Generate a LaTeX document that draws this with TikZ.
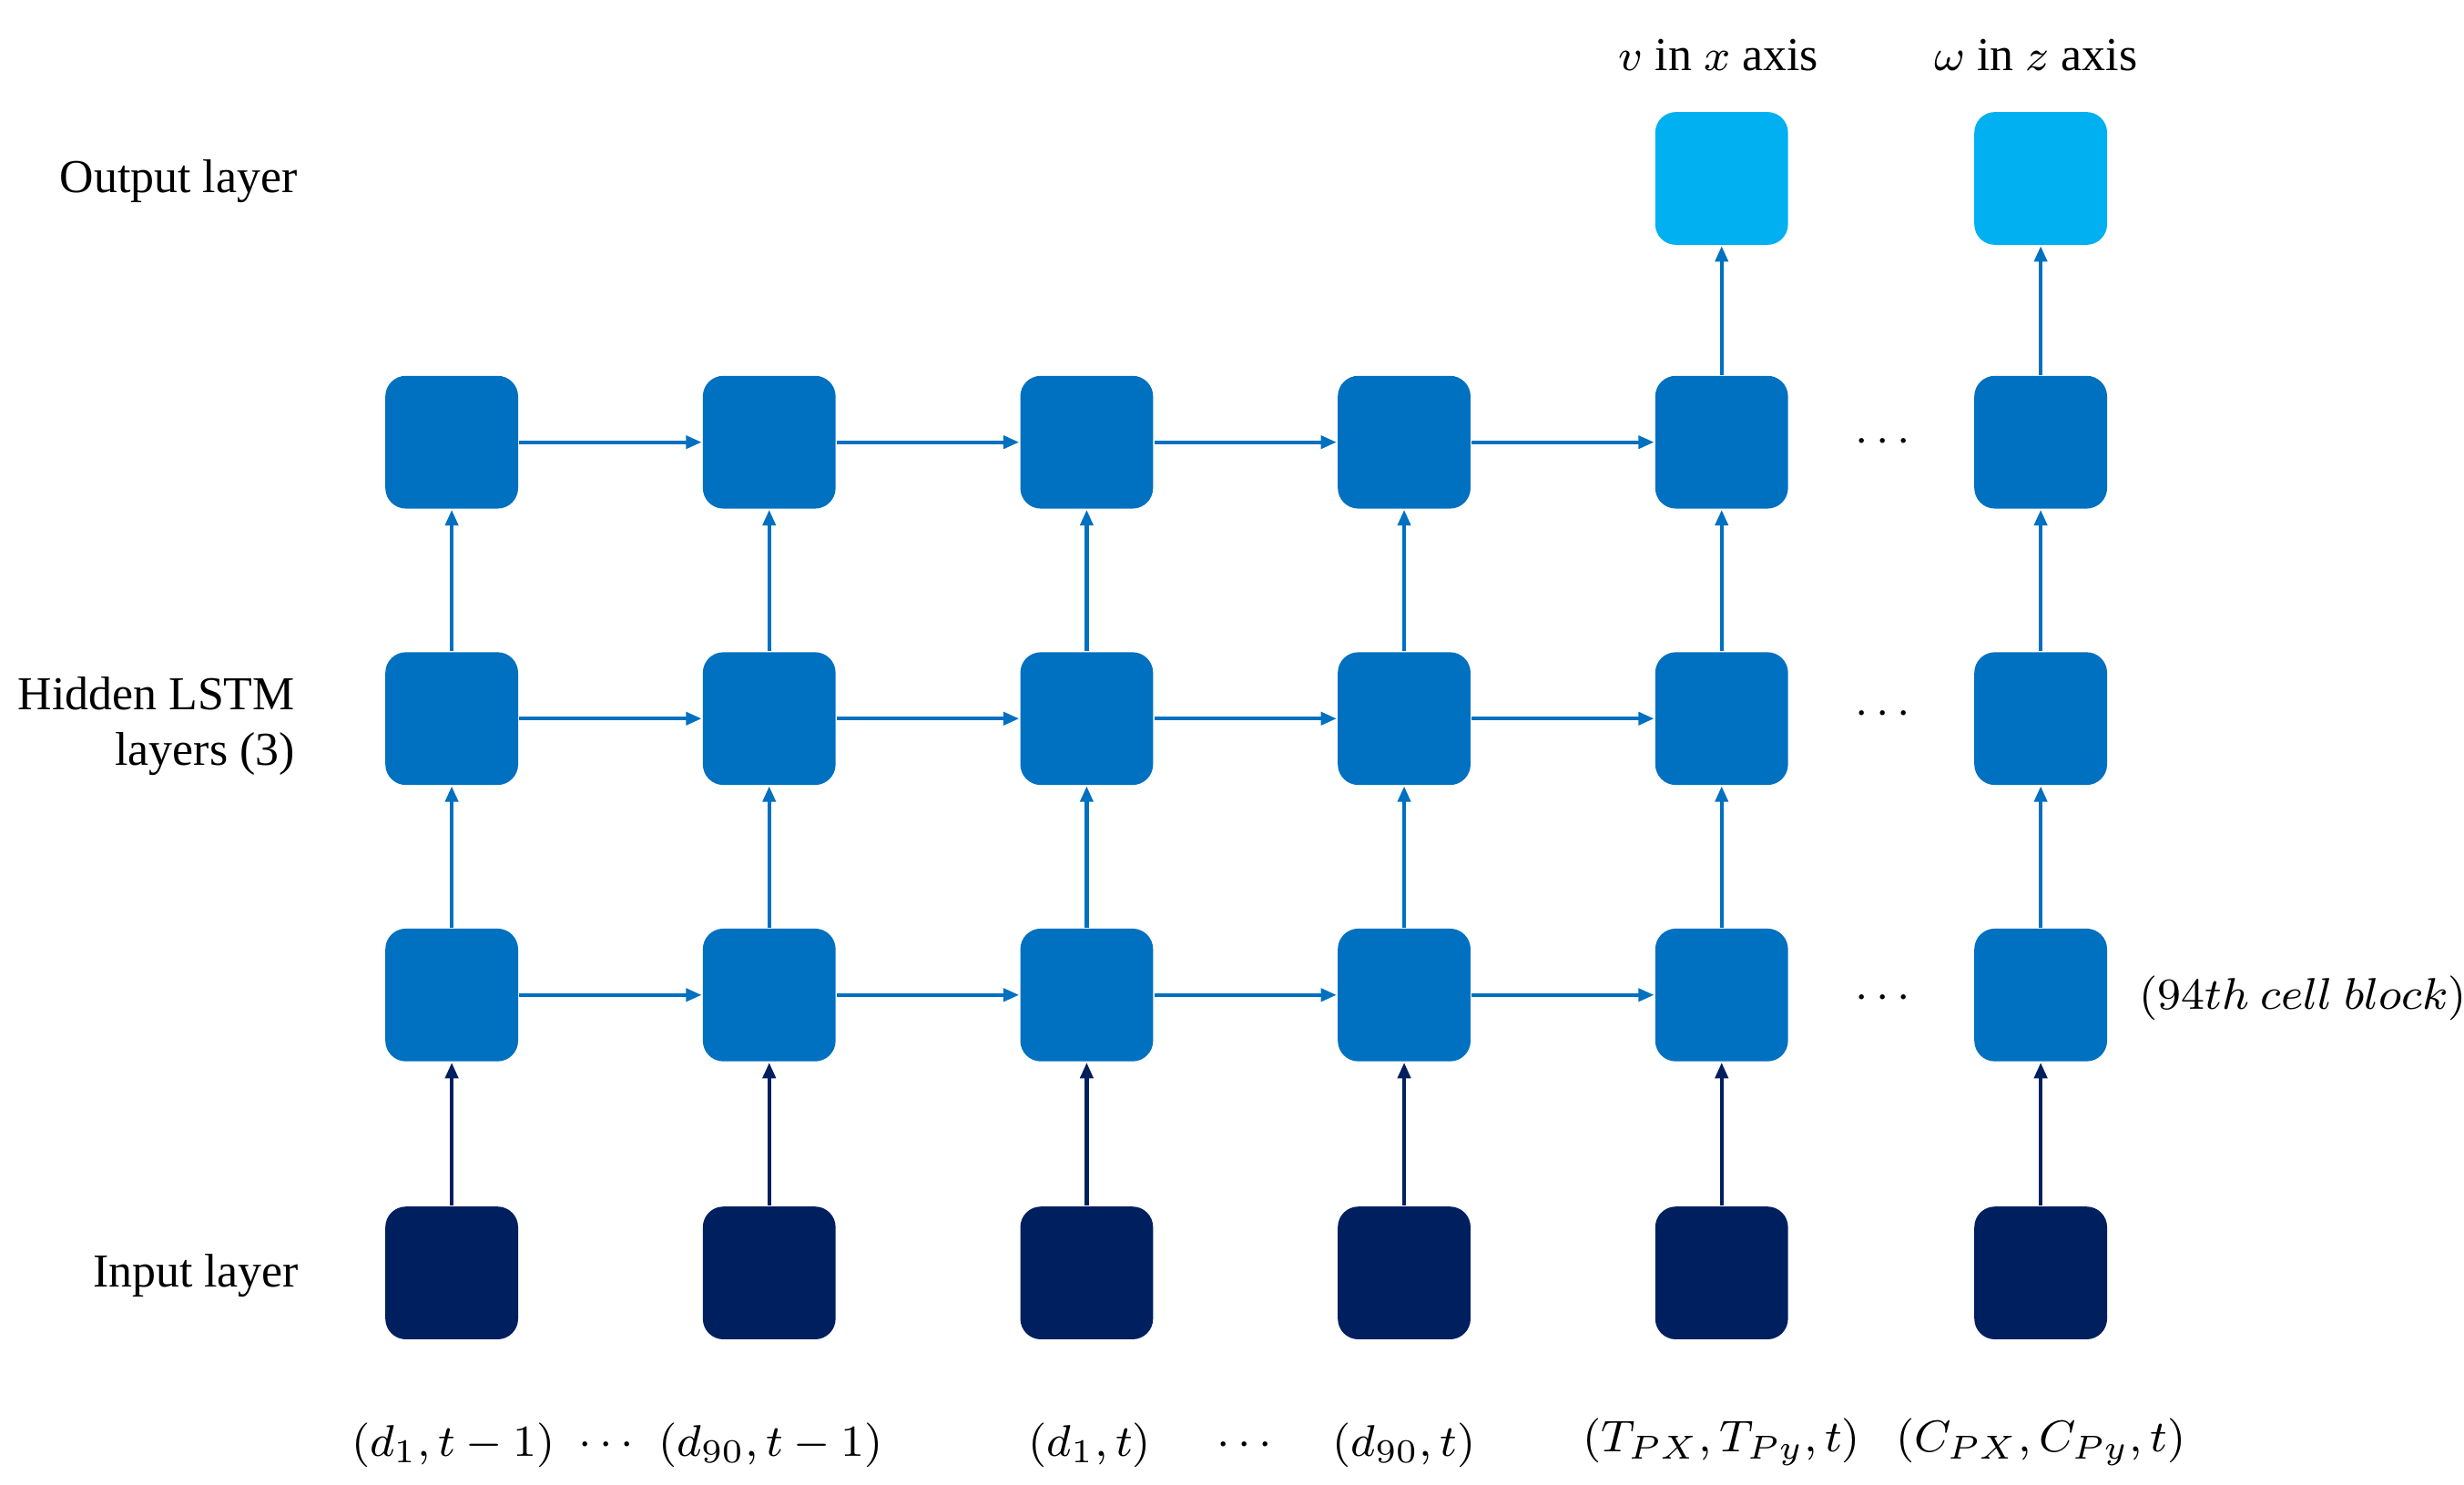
\documentclass[tikz,border=0pt]{standalone}
\usepackage{fontspec}
\setmainfont{Liberation Serif}
\usetikzlibrary{arrows.meta}
\definecolor{hid}{HTML}{0070C0}
\definecolor{outc}{HTML}{00B0F0}
\definecolor{inc}{HTML}{001F5F}
\begin{document}
\begin{tikzpicture}[x=0.01cm,y=-0.01cm,
  box/.style={minimum size=0.84cm,inner sep=0,rounded corners=0.13cm,draw=none},
  hb/.style={box,fill=hid}, ob/.style={box,fill=outc}, ib/.style={box,fill=inc},
  ar/.style={-{Triangle[length=0.1cm,width=0.08cm]},line width=0.7pt,draw=hid},
  ai/.style={ar,draw=inc},
  lab/.style={font=\fontsize{8.5}{10}\selectfont}]
\useasboundingbox (0,0) rectangle (1560,940);
\foreach \c/\x in {1/286,2/487,3/688,4/889,5/1090,6/1292}{
  \node[ib] (i\c) at (\x,806) {};
  \node[hb] (a\c) at (\x,630) {};
  \node[hb] (b\c) at (\x,455) {};
  \node[hb] (c\c) at (\x,280) {};
  \draw[ai] (i\c) -- (a\c);
  \draw[ar] (a\c) -- (b\c);
  \draw[ar] (b\c) -- (c\c);
}
\node[ob] (o5) at (1090,113) {};
\node[ob] (o6) at (1292,113) {};
\draw[ar] (c5) -- (o5);
\draw[ar] (c6) -- (o6);
\foreach \r in {a,b,c}{
  \foreach \p/\q in {1/2,2/3,3/4,4/5}{ \draw[ar] (\r\p) -- (\r\q); }
}
\node[lab] (d1) at (1192,280) {$\cdots$};
\node[lab] (d2) at (1192,452) {$\cdots$};
\node[lab] (d3) at (1192,632) {$\cdots$};
\node[lab] (l1) at (113,115) {Output layer};
\node[lab,align=right,anchor=east] (l2) at (199,460) {Hidden LSTM\\layers (3)};
\node[lab] (l3) at (124,808) {Input layer};
\node[lab] (l4) at (1458,632) {$(94th\ cell\ block)$};
\node[lab] (t1) at (1088,35) {$v$ in $x$ axis};
\node[lab] (t2) at (1289,35) {$\omega$ in $z$ axis};
\node[lab] (s1) at (287,915) {$(d_1,t-1)$};
\node[lab] (s2) at (384,915) {$\cdots$};
\node[lab] (s3) at (488,915) {$(d_{90},t-1)$};
\node[lab] (s4) at (690,915) {$(d_1,t)$};
\node[lab] (s5) at (788,915) {$\cdots$};
\node[lab] (s6) at (889,915) {$(d_{90},t)$};
\node[lab] (s7) at (1090,913) {$(T_{PX},T_{Py},t)$};
\node[lab] (s8) at (1292,913) {$(C_{PX},C_{Py},t)$};
\end{tikzpicture}
\end{document}
